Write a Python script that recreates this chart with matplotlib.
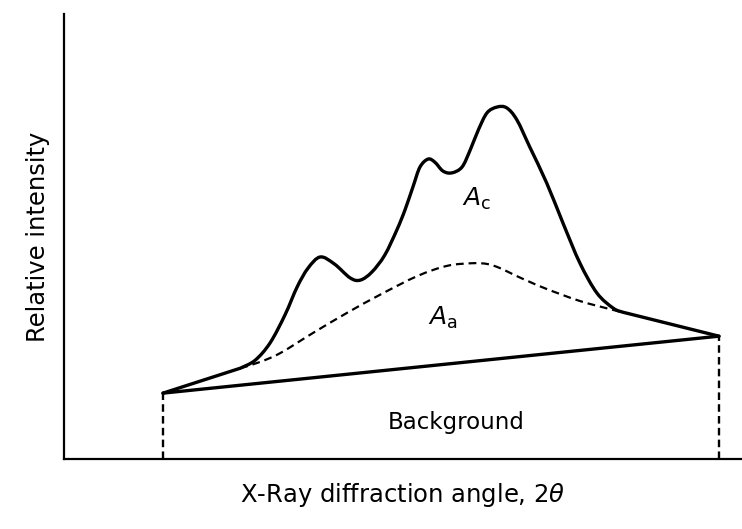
import numpy as np
import matplotlib
matplotlib.use('Agg')
import matplotlib.pyplot as plt
from matplotlib.path import Path
from matplotlib.patches import PathPatch

# measured curve (arbitrary units, 2theta vs relative intensity)
total_x = [14.6, 26.0, 28.2, 30.4, 32.6, 34.4, 36.0, 37.8, 39.9, 42.2, 43.7, 45.4, 47.3,
           49.1, 50.3, 51.5, 52.5, 53.7, 54.7, 55.9, 57.2, 58.7, 59.9, 61.1, 62.4, 63.9,
           65.3, 66.8, 68.7, 71.2, 73.6, 76.1, 78.6, 81.0, 82.4, 96.6]
total_y = [14.8, 20.4, 22.2, 26.1, 32.4, 38.7, 42.9, 45.4, 43.8, 40.7, 40.2, 42.0, 45.8,
           51.5, 56.0, 61.3, 65.6, 67.4, 66.7, 64.7, 64.3, 65.6, 69.4, 73.9, 77.8, 79.1,
           78.9, 76.2, 70.1, 62.0, 53.0, 44.0, 37.3, 33.9, 33.0, 27.6]

amorph_x = [26.0, 28.9, 31.9, 36.7, 41.7, 46.6, 52.1, 56.5, 60.3, 62.5, 64.3, 66.5, 68.7,
            71.2, 76.1, 81.0, 82.4]
amorph_y = [20.4, 21.8, 23.8, 28.3, 32.8, 36.9, 41.1, 43.4, 44.0, 43.8, 42.9, 41.3, 39.8,
            38.2, 35.5, 33.5, 33.0]

bg_x = [14.6, 96.6]
bg_y = [14.8, 27.6]


def smooth_path(xs, ys, straight_head=False, straight_tail=False):
    # catmull-rom through the read points, drawn as bezier segments
    pts = np.column_stack([xs, ys])
    verts = [pts[0]]
    codes = [Path.MOVETO]
    start, stop = 0, len(pts) - 1
    if straight_head:
        verts.append(pts[1]); codes.append(Path.LINETO)
        start = 1
    if straight_tail:
        stop = len(pts) - 2
    inner = pts[start:stop + 1]
    n = len(inner)
    for i in range(n - 1):
        p0 = inner[max(i - 1, 0)]
        p1 = inner[i]
        p2 = inner[i + 1]
        p3 = inner[min(i + 2, n - 1)]
        c1 = p1 + (p2 - p0) / 6
        c2 = p2 - (p3 - p1) / 6
        verts += [c1, c2, p2]
        codes += [Path.CURVE4] * 3
    if straight_tail:
        verts.append(pts[-1]); codes.append(Path.LINETO)
    return Path(verts, codes)


fig = plt.figure(figsize=(7.42, 5.29), dpi=100)
ax = fig.add_axes([64 / 742, 70 / 529, 678 / 742, 445 / 529])
ax.set_xlim(0, 100)
ax.set_ylim(0, 100)

ax.add_patch(PathPatch(smooth_path(total_x, total_y, True, True), fill=False,
                       lw=2.4, color='black', joinstyle='round', capstyle='round'))
ax.add_patch(PathPatch(smooth_path(amorph_x, amorph_y), fill=False, lw=1.6,
                       color='black', linestyle=(0, (3.5, 2.2))))
ax.plot(bg_x, bg_y, color='black', lw=2.4, solid_capstyle='round')
for xb, yb in zip(bg_x, bg_y):
    ax.plot([xb, xb], [0, yb], color='black', lw=1.7, linestyle=(0, (3.2, 1.8)))

ax.text(60.8, 58.5, r'$A_{\mathrm{c}}$', fontsize=18, ha='center', va='center')
ax.text(55.8, 31.6, r'$A_{\mathrm{a}}$', fontsize=18, ha='center', va='center')
ax.text(57.8, 8.3, 'Background', fontsize=16.5, ha='center', va='center')

ax.set_xlabel('X-Ray diffraction angle, 2$\\theta$', fontsize=17.5, labelpad=16)
ax.set_ylabel('Relative intensity', fontsize=17.5, labelpad=10)

for s in ['top', 'right']:
    ax.spines[s].set_visible(False)
ax.spines['left'].set_linewidth(1.6)
ax.spines['bottom'].set_linewidth(1.6)
ax.set_xticks([])
ax.set_yticks([])

fig.savefig('out.png', dpi=100)
